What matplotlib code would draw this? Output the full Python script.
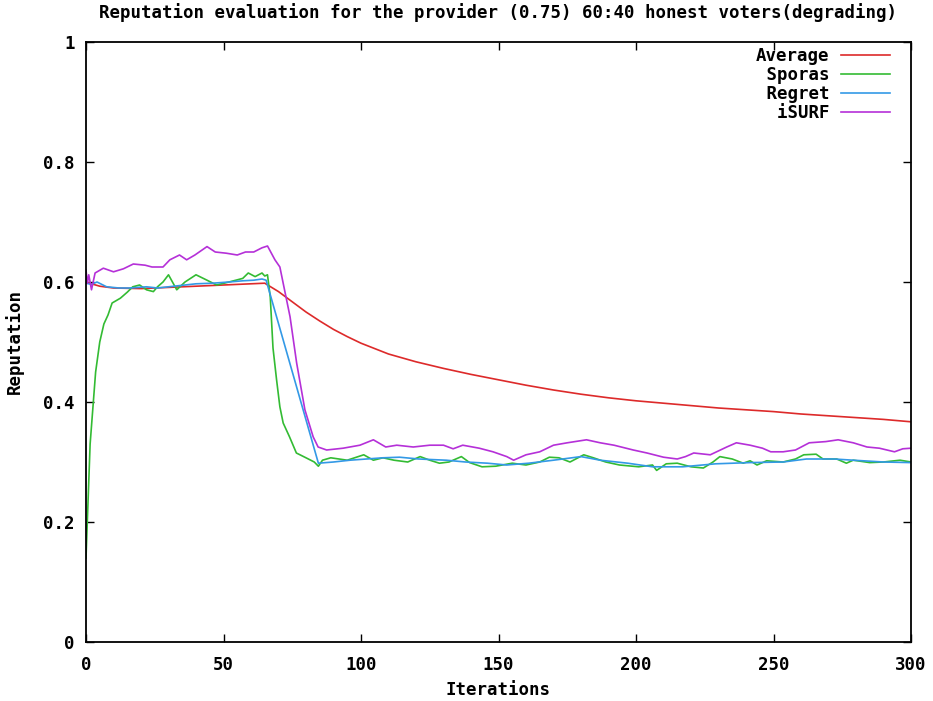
import matplotlib
matplotlib.use('Agg')
import matplotlib.pyplot as plt

# Average
avg_x = [0, 2, 5, 10, 20, 30, 40, 50, 60, 65, 70, 75, 80, 85, 90, 95, 100, 110, 120, 130,
         140, 150, 160, 170, 180, 190, 200, 210, 220, 230, 240, 250, 260, 270, 280, 290, 300]
avg_y = [0.600, 0.597, 0.593, 0.590, 0.589, 0.591, 0.593, 0.595, 0.597, 0.598, 0.584, 0.567,
         0.550, 0.535, 0.521, 0.509, 0.498, 0.480, 0.467, 0.456, 0.446, 0.437, 0.428, 0.420,
         0.413, 0.407, 0.402, 0.398, 0.394, 0.390, 0.387, 0.384, 0.380, 0.377, 0.374, 0.371, 0.367]

# Sporas
sp_x = [0, 1.5, 3.5, 5, 6.5, 8, 9.5, 12.5, 15, 17,
        19.5, 22, 24.5, 26, 28, 30, 33, 36, 40, 44,
        47.5, 52, 57, 59, 61.5, 64, 65, 66, 67, 68,
        69.3, 70.5, 71.7, 74, 76.5, 80, 83, 84.5, 86, 89,
        95, 101, 104.5, 108, 112, 117, 121.5, 125, 128.5, 132,
        136.5, 139.5, 144, 149, 155, 160, 165, 168.5, 172, 176,
        181, 184.5, 189, 194, 201, 206, 207.5, 211, 215, 220,
        224.5, 228, 230.5, 235, 239, 241.5, 244, 247.5, 253.5, 258,
        261, 265.5, 268, 273, 276.5, 279, 285, 290, 296, 300]
sp_y = [0.14, 0.33, 0.45, 0.50, 0.53, 0.545, 0.565, 0.573, 0.583, 0.592,
        0.595, 0.587, 0.584, 0.592, 0.600, 0.612, 0.587, 0.600, 0.612, 0.603,
        0.595, 0.600, 0.606, 0.615, 0.609, 0.615, 0.610, 0.612, 0.575, 0.49,
        0.437, 0.392, 0.365, 0.342, 0.315, 0.307, 0.300, 0.293, 0.303, 0.307,
        0.303, 0.312, 0.303, 0.307, 0.303, 0.300, 0.309, 0.303, 0.298, 0.300,
        0.309, 0.299, 0.292, 0.293, 0.298, 0.295, 0.300, 0.308, 0.307, 0.300,
        0.312, 0.307, 0.300, 0.295, 0.292, 0.295, 0.286, 0.297, 0.298, 0.292,
        0.290, 0.300, 0.309, 0.305, 0.298, 0.302, 0.295, 0.302, 0.300, 0.305,
        0.312, 0.313, 0.305, 0.305, 0.298, 0.303, 0.299, 0.300, 0.303, 0.300]

# Regret
rg_x = [0, 2, 4, 7.5, 12, 16, 22, 26, 30, 36,
        40, 46, 52, 57, 61, 64, 65.5, 84.5, 90, 96,
        102, 108, 114, 121, 131, 138, 146, 153, 161, 170,
        180, 187, 197, 206, 217, 229, 241.5, 253.5, 262, 272,
        279, 290, 300]
rg_y = [0.598, 0.596, 0.600, 0.592, 0.590, 0.590, 0.592, 0.590, 0.592, 0.595,
        0.597, 0.598, 0.600, 0.602, 0.603, 0.605, 0.603, 0.298, 0.300, 0.303,
        0.305, 0.307, 0.308, 0.305, 0.303, 0.300, 0.298, 0.295, 0.298, 0.303,
        0.309, 0.303, 0.298, 0.292, 0.292, 0.297, 0.299, 0.300, 0.305, 0.305,
        0.303, 0.300, 0.299]

# iSURF
is_x = [0, 0.5, 1, 2, 3.3, 6.3, 10, 13.6, 17.2, 21.5,
        24, 28, 30.5, 34, 36.6, 39.6, 44, 47, 51, 55,
        58, 61, 64, 66, 68.7, 70.5, 71.7, 74.2, 76.6, 79.6,
        82.6, 84.4, 87.5, 93.5, 99.6, 104.5, 109, 113, 119, 125,
        130, 133.5, 137, 143, 148, 153, 155.5, 160, 165, 170,
        175, 182, 187, 192, 199, 204, 210, 215, 218, 221,
        227, 233, 236.5, 241.5, 246, 249, 253.5, 258, 263, 269,
        273.5, 279, 284, 288.5, 294, 297, 300]
is_y = [0.620, 0.598, 0.612, 0.587, 0.615, 0.623, 0.617, 0.622, 0.630, 0.628,
        0.625, 0.625, 0.637, 0.645, 0.637, 0.645, 0.659, 0.650, 0.648, 0.645,
        0.650, 0.650, 0.657, 0.660, 0.637, 0.625, 0.598, 0.542, 0.465, 0.387,
        0.342, 0.325, 0.320, 0.323, 0.328, 0.337, 0.325, 0.328, 0.325, 0.328,
        0.328, 0.322, 0.328, 0.323, 0.317, 0.309, 0.303, 0.312, 0.317, 0.328,
        0.332, 0.337, 0.332, 0.328, 0.320, 0.315, 0.308, 0.305, 0.309, 0.315,
        0.312, 0.325, 0.332, 0.328, 0.323, 0.317, 0.317, 0.320, 0.332, 0.334,
        0.337, 0.332, 0.325, 0.323, 0.317, 0.322, 0.323]

x_ticks = [0, 50, 100, 150, 200, 250, 300]
y_ticks = [0, 0.2, 0.4, 0.6, 0.8, 1]
y_tick_labels = ['0', '0.2', '0.4', '0.6', '0.8', '1']

plt.rcParams['font.family'] = 'DejaVu Sans Mono'
plt.rcParams['font.weight'] = 'bold'
fs = 12.5

W, H = 933, 701
fig = plt.figure(figsize=(W / 100, H / 100), dpi=100)
ax = fig.add_axes([86 / W, 1 - 642 / H, (911 - 86) / W, (642 - 42) / H])

lw = 1.2
# monospace font: pad labels on the left so they line up on the right like gnuplot
ax.plot(avg_x, avg_y, color='#dd2a2a', lw=lw, label='Average')
ax.plot(sp_x, sp_y, color='#33bb33', lw=lw, label=' Sporas')
ax.plot(rg_x, rg_y, color='#3399e6', lw=lw, label=' Regret')
ax.plot(is_x, is_y, color='#b530d8', lw=lw, label='  iSURF')

ax.set_xlim(0, 300)
ax.set_ylim(0, 1)
ax.set_xticks(x_ticks)
ax.set_yticks(y_ticks)
ax.set_yticklabels(y_tick_labels)
ax.tick_params(direction='in', length=6, width=1, top=True, right=True,
               labelsize=fs)
ax.tick_params(axis='x', pad=10)
ax.tick_params(axis='y', pad=8)
for s in ax.spines.values():
    s.set_linewidth(1.3)

fig.text(498 / W, 1 - 13 / H,
         'Reputation evaluation for the provider (0.75) 60:40 honest voters(degrading)',
         ha='center', va='center', fontsize=fs)
fig.text(498 / W, 1 - 690 / H, 'Iterations', ha='center', va='center', fontsize=fs)
fig.text(14 / W, 1 - 342 / H, 'Reputation', ha='center', va='center',
         rotation=90, fontsize=fs)

ax.legend(loc='upper right', bbox_to_anchor=((890 - 86) / 825, (642 - 47) / 600),
          markerfirst=False, frameon=False, fontsize=fs, handlelength=2.8,
          handletextpad=0.7, labelspacing=0.05, borderaxespad=0, borderpad=0)

fig.savefig('out.png', dpi=100)
